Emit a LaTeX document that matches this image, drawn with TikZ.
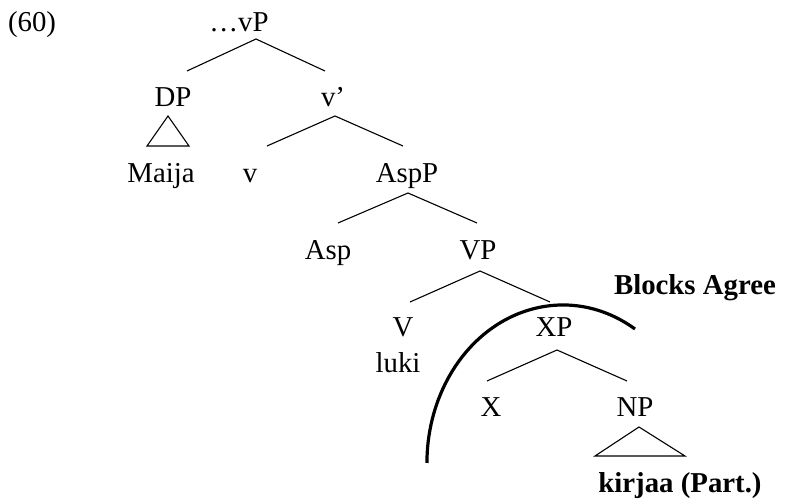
\documentclass[tikz,border=0pt]{standalone}
\usepackage{fontspec}
\setmainfont{Liberation Serif}
\begin{document}
\begin{tikzpicture}[x=0.5pt,y=-0.5pt,
  lbl/.style={anchor=base,inner sep=0pt,font=\fontsize{14.4}{17}\selectfont},
  blbl/.style={lbl,font=\fontsize{14.4}{17}\selectfont\bfseries},
  branch/.style={line width=0.55pt},
  tri/.style={line width=0.55pt},
  blocker/.style={line width=1.6pt}]
\useasboundingbox (0,0) rectangle (788,502);
% labels
\node[lbl] (ex) at (32,32) {(60)};
\node[lbl] (vP) at (239,32) {\ldots vP};
\node[lbl] (DP) at (173,107) {DP};
\node[lbl] (vbar) at (333,107) {v’};
\node[lbl] (Maija) at (161,183) {Maija};
\node[lbl] (v) at (250,183) {v};
\node[lbl] (AspP) at (407,183) {AspP};
\node[lbl] (Asp) at (328,260) {Asp};
\node[lbl] (VP) at (478,260) {VP};
\node[lbl] (V) at (403,337) {V};
\node[lbl] (luki) at (398,373) {luki};
\node[lbl] (XP) at (554,337) {XP};
\node[lbl] (X) at (491,417) {X};
\node[lbl] (NP) at (635,417) {NP};
\node[blbl] (kirjaa) at (680,493) {kirjaa (Part.)};
\node[blbl] (blocks) at (695,295) {Blocks Agree};
% branch points
\coordinate (vPb) at (256,39);  \coordinate (DPt) at (187,71);  \coordinate (vbt) at (325,71);
\coordinate (vbb) at (335,116); \coordinate (vt) at (267,146);  \coordinate (AspPt) at (403,146);
\coordinate (AspPb) at (408,193); \coordinate (Aspt) at (338,223); \coordinate (VPt) at (477,223);
\coordinate (VPb) at (480,271); \coordinate (Vt) at (410,302); \coordinate (XPt) at (550,302);
\coordinate (XPb) at (557,350); \coordinate (Xt) at (487,381); \coordinate (NPt) at (627,381);
\coordinate (DPa) at (168,116); \coordinate (DPl) at (147,146); \coordinate (DPr) at (189,146);
\coordinate (NPa) at (639,427); \coordinate (NPl) at (595,456); \coordinate (NPr) at (685,456);
\coordinate (arcR) at (635,329);
% branches
\draw[branch] (DPt) -- (vPb) -- (vbt);
\draw[branch] (vt) -- (vbb) -- (AspPt);
\draw[branch] (Aspt) -- (AspPb) -- (VPt);
\draw[branch] (Vt) -- (VPb) -- (XPt);
\draw[branch] (Xt) -- (XPb) -- (NPt);
% triangles
\draw[tri] (DPa) -- (DPl) -- (DPr) -- cycle;
\draw[tri] (NPa) -- (NPl) -- (NPr) -- cycle;
% blocking arc
\draw[blocker] (arcR) arc[start angle=-58, end angle=-180, x radius=136, y radius=158];
\end{tikzpicture}
\end{document}
